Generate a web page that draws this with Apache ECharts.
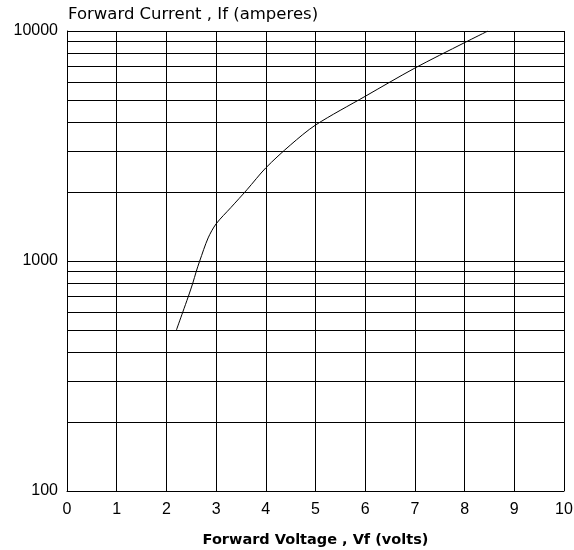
<!DOCTYPE html>
<html><head><meta charset="utf-8">
<script src="https://cdn.jsdelivr.net/npm/echarts@6/dist/echarts.min.js"></script>
<style>html,body{margin:0;padding:0;background:#fff}#c{width:574px;height:550px}</style>
</head><body><div id="c"></div>
<script>
const voltage = [2.2, 2.33, 2.44, 2.53, 2.6, 2.67, 2.84, 3.0, 3.3, 3.62, 4.0, 4.5, 5.0, 6.0, 7.0, 8.0, 8.47];
const current = [500, 600, 700, 800, 900, 1000, 1260, 1450, 1710, 2040, 2540, 3200, 3900, 5200, 6900, 8900, 10000];
const minorGrid = [200, 300, 400, 500, 600, 700, 800, 900, 2000, 3000, 4000, 5000, 6000, 7000, 8000, 9000];
const xTitle = 'Forward Voltage , Vf (volts)';
const yTitle = 'Forward Current , If (amperes)';

const font = 'DejaVu Sans, sans-serif';
const tickFont = 'Liberation Sans, Arial, sans-serif';
const chart = echarts.init(document.getElementById('c'), null, {renderer: 'canvas'});
chart.setOption({
  animation: false,
  backgroundColor: '#fff',
  title: {text: yTitle, left: 68, top: 6, padding: 0, textStyle: {fontFamily: font, fontSize: 16.5, fontWeight: 'normal', color: '#000'}},
  grid: {left: 67, right: 10, top: 31, bottom: 59, containLabel: false, outerBoundsMode: 'none'},
  xAxis: {
    type: 'value', min: 0, max: 10, interval: 1,
    name: xTitle, nameLocation: 'middle', nameGap: 41.5,
    nameTextStyle: {fontFamily: font, fontSize: 14.5, fontWeight: 'bold', color: '#000'},
    axisLine: {show: true, lineStyle: {color: '#000', width: 1}},
    axisTick: {show: false},
    axisLabel: {fontFamily: tickFont, fontSize: 16, color: '#000', margin: 11},
    splitLine: {show: true, lineStyle: {color: '#000', width: 1}}
  },
  yAxis: {
    type: 'log', logBase: 10, min: 100, max: 10000,
    axisLine: {show: true, lineStyle: {color: '#000', width: 1}},
    axisTick: {show: false},
    axisLabel: {fontFamily: tickFont, fontSize: 16, color: '#000', margin: 9, padding: [2, 0, 0, 0], formatter: v => String(Math.round(v))},
    splitLine: {show: true, lineStyle: {color: '#000', width: 1}},
    minorSplitLine: {show: false}
  },
  series: [{
    type: 'line',
    data: voltage.map((v, i) => [v, current[i]]),
    showSymbol: false,
    smooth: 0.3,
    lineStyle: {color: '#000', width: 1},
    markLine: {
      silent: true, symbol: 'none', label: {show: false},
      lineStyle: {color: '#000', width: 1, type: 'solid'},
      data: minorGrid.map(v => ({yAxis: v}))
    }
  }]
});
</script></body></html>
